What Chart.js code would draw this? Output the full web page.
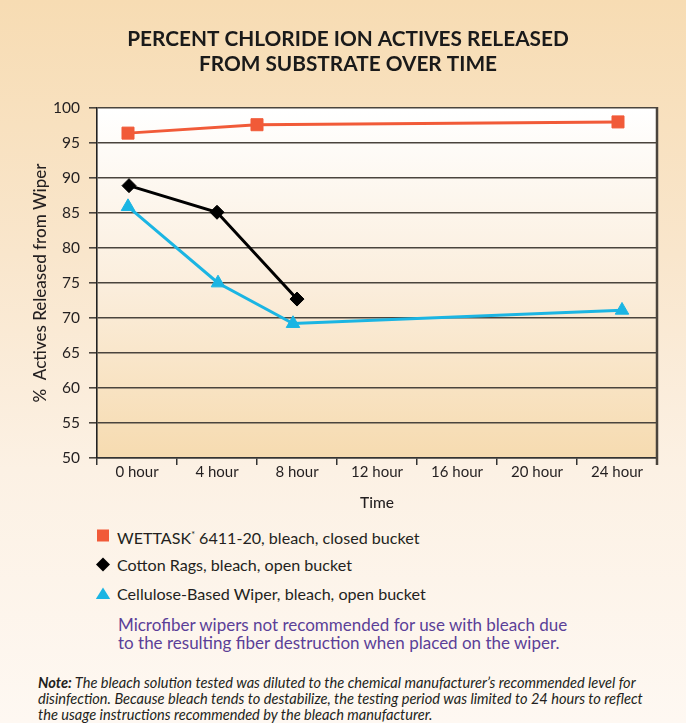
<!DOCTYPE html>
<html>
<head>
<meta charset="utf-8">
<script src="https://cdn.jsdelivr.net/npm/chart.js@4.4.1/dist/chart.umd.min.js"></script>
<style>
  html, body { margin: 0; padding: 0; }
  #page {
    position: relative; width: 686px; height: 723px; overflow: hidden;
    background: linear-gradient(to bottom, #f7dcb3 0%, #f9e6cc 35%, #fcf1e4 65%, #fef8f2 100%);
    font-family: Lato, "Open Sans", sans-serif; color: #231f20;
  }
  #chartBox { position: absolute; left: 0; top: 0; width: 686px; height: 520px; }
  #legend { position: absolute; left: 96px; top: 521px; font-size: 16.1px; line-height: 29px; }
  .row { display: flex; align-items: center; height: 29px; }
  .mk { width: 21px; height: 29px; flex: none; }
  .sup { font-size: 9px; vertical-align: 6px; }
  #micro { position: absolute; left: 118px; top: 616px; font-size: 17px; line-height: 18px; color: #5b3f98; }
  #note { position: absolute; left: 38px; top: 675px; font-size: 14.6px; line-height: 16px; font-style: italic; color: #231f20; }
</style>
</head>
<body>
<div id="page">
  <div id="chartBox"><canvas id="c"></canvas></div>
  <div id="legend"></div>
  <div id="micro">Microfiber wipers not recommended for use with bleach due<br>to the resulting fiber destruction when placed on the wiper.</div>
  <div id="note"><b>Note:</b> The bleach solution tested was diluted to the chemical manufacturer’s recommended level for<br>disinfection. Because bleach tends to destabilize, the testing period was limited to 24 hours to reflect<br>the usage instructions recommended by the bleach manufacturer.</div>
</div>
<script>
// ---- data ----
const categories = ['0 hour', '4 hour', '8 hour', '12 hour', '16 hour', '20 hour', '24 hour'];
const categoryHours = [0, 4, 8, 12, 16, 20, 24];
const titleLines = ['PERCENT CHLORIDE ION ACTIVES RELEASED', 'FROM SUBSTRATE OVER TIME'];
const seriesNames = ['WETTASK* 6411-20, bleach, closed bucket', 'Cotton Rags, bleach, open bucket', 'Cellulose-Based Wiper, bleach, open bucket'];
const wettaskHours = [-0.45, 6, 24.05];
const wettaskValues = [96.4, 97.6, 98.0];
const cottonHours = [-0.4, 4, 8];
const cottonValues = [88.9, 85.1, 72.7];
const celluloseHours = [-0.45, 4.05, 7.8, 24.25];
const celluloseValues = [85.9, 75.0, 69.2, 71.1];
const yMin = 50, yMax = 100, yStep = 5;

const colors = ['#f15a38', '#000000', '#1bb5e3'];
const styles = ['rect', 'rectRot', 'triangle'];

function pts(xs, ys) { return xs.map((x, i) => ({ x: x, y: ys[i] })); }

const plotBg = {
  id: 'plotBg',
  beforeDraw(chart) {
    const { ctx, chartArea: a } = chart;
    const g = ctx.createLinearGradient(0, a.top, 0, a.bottom);
    g.addColorStop(0, '#ffffff');
    g.addColorStop(0.5, '#fbeedd');
    g.addColorStop(1, '#f6dbb0');
    ctx.save();
    ctx.fillStyle = g;
    ctx.fillRect(a.left, a.top, a.right - a.left, a.bottom - a.top);
    ctx.restore();
  },
  afterDraw(chart) {
    const { ctx, chartArea: a } = chart;
    ctx.save();
    ctx.strokeStyle = '#4a443d';
    ctx.lineWidth = 2.5;
    ctx.beginPath();
    ctx.moveTo(a.right, a.top - 1);
    ctx.lineTo(a.right, a.bottom + 7);
    ctx.stroke();
    ctx.restore();
  }
};

const hStep = categoryHours[1] - categoryHours[0];
const ds = [
  [wettaskHours, wettaskValues, 8.5],
  [cottonHours, cottonValues, 7],
  [celluloseHours, celluloseValues, 7.8]
].map((d, i) => ({
  label: seriesNames[i],
  data: pts(d[0], d[1]),
  xAxisID: 'xh',
  yAxisID: 'y',
  borderColor: colors[i],
  backgroundColor: colors[i],
  pointBackgroundColor: colors[i],
  pointBorderColor: colors[i],
  pointBorderWidth: 1,
  pointStyle: styles[i],
  pointRadius: d[2],
  pointHoverRadius: d[2],
  borderWidth: 3,
  tension: 0
}));

const PADL = 39, PADR = 29;
new Chart(document.getElementById('c'), {
  type: 'line',
  data: { datasets: ds },
  plugins: [plotBg],
  options: {
    responsive: true,
    maintainAspectRatio: false,
    animation: false,
    events: [],
    layout: { padding: { left: PADL, right: PADR, top: 0, bottom: 2 } },
    plugins: {
      legend: { display: false },
      tooltip: { enabled: false },
      title: {
        display: true,
        text: titleLines,
        color: '#1a1a1a',
        font: { family: 'Lato', size: 20.8, weight: 'bold', lineHeight: 1.2 },
        padding: { top: 27, bottom: 31 }
      }
    },
    scales: {
      x: {
        type: 'category',
        labels: categories,
        offset: true,
        position: 'bottom',
        grid: { offset: true, drawOnChartArea: false, tickLength: 7, color: '#333', lineWidth: 1.5 },
        border: { display: true, color: '#333', width: 1.5 },
        ticks: { color: '#231f20', font: { family: 'Lato', size: 15 }, padding: -2, maxRotation: 0, autoSkip: false },
        title: { display: true, text: 'Time', color: '#231f20', font: { family: 'Lato', size: 15.5, weight: '500' }, padding: { top: 0, bottom: 6 } },
        afterFit(s) { s.height = 60; }
      },
      xh: {
        type: 'linear',
        display: false,
        min: categoryHours[0] - hStep / 2,
        max: categoryHours[categoryHours.length - 1] + hStep / 2
      },
      y: {
        type: 'linear',
        min: yMin, max: yMax,
        grid: { color: '#4a443d', lineWidth: 1.6, tickLength: 8 },
        border: { display: true, color: '#222', width: 1.6 },
        ticks: { stepSize: yStep, color: '#231f20', font: { family: 'Lato', size: 15.5 }, padding: 9 },
        title: { display: true, text: '%  Actives Released from Wiper', color: '#231f20', font: { family: 'Lato', size: 17, weight: '500' }, padding: { top: -9, bottom: 0 } },
        afterFit(s) { s.width = 97 - PADL; }
      }
    }
  }
});

// ---- HTML legend built from the series ----
function markerSvg(i) {
  const c = colors[i];
  let shape;
  if (i === 0) shape = `<rect x="1" y="8.5" width="12" height="12" fill="${c}"/>`;
  else if (i === 1) shape = `<polygon points="7,7.5 14,14.5 7,21.5 0,14.5" fill="${c}"/>`;
  else shape = `<polygon points="7,8.5 14.2,20 -0.2,20" fill="${c}"/>`;
  return `<svg class="mk" viewBox="0 0 21 29" width="21" height="29">${shape}</svg>`;
}
const leg = document.getElementById('legend');
seriesNames.forEach((n, i) => {
  const txt = n.replace('*', '<span class="sup">*</span>');
  leg.insertAdjacentHTML('beforeend', `<div class="row">${markerSvg(i)}<span>${txt}</span></div>`);
});
</script>
</body>
</html>
